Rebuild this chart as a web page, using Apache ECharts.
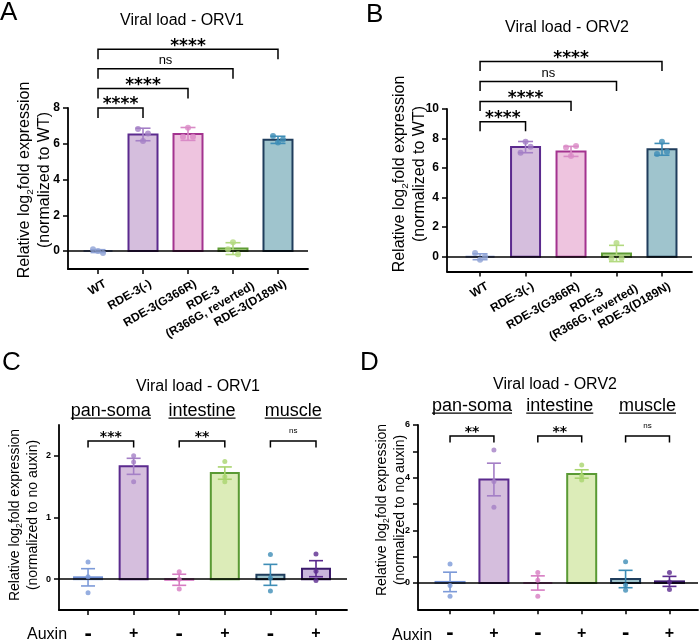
<!DOCTYPE html>
<html>
<head>
<meta charset="utf-8">
<script src="https://cdn.jsdelivr.net/npm/echarts@6/dist/echarts.min.js"></script>
<style>
  html, body { margin: 0; padding: 0; background: #fff; }
  #main { width: 700px; height: 641px; }
</style>
</head>
<body>
<div id="main"></div>
<script>
// ---- fonts ----
var FONT = '"Liberation Sans", Arial, sans-serif';
var STAR = '"DejaVu Sans", sans-serif';

// ---- A: viral load ORV1, rde-3 alleles ----
var catsA = ['WT', 'RDE-3(-)', 'RDE-3(G366R)', 'RDE-3\n(R366G, reverted)', 'RDE-3(D189N)'];
var meanA = [0.0, 6.52, 6.55, 0.14, 6.22];
var errA  = [0.08, 0.35, 0.36, 0.33, 0.2];
var ptsA  = [[0.1, -0.1, 0.0], [6.82, 6.58, 6.16], [6.39, 6.39, 6.89], [0.1, -0.18, 0.49], [6.44, 6.24, 6.07]];
var pairsA = [[0, 1], [0, 2], [0, 3], [0, 4]];
var sigA   = ['****', '****', 'ns', '****'];

// ---- B: viral load ORV2, rde-3 alleles ----
var catsB = catsA;
var meanB = [0.0, 7.42, 7.13, 0.22, 7.27];
var errB  = [0.2, 0.38, 0.34, 0.55, 0.4];
var ptsB  = [[0.25, 0.0, -0.2], [7.04, 7.45, 7.79], [7.4, 7.5, 6.82], [-0.12, -0.1, 0.93], [6.95, 7.1, 7.79]];
var pairsB = [[0, 1], [0, 2], [0, 3], [0, 4]];
var sigB   = ['****', '****', 'ns', '****'];

// ---- C: viral load ORV1, tissue-specific depletion ----
var auxin  = ['-', '+', '-', '+', '-', '+'];
var tissues = ['pan-soma', 'intestine', 'muscle'];
var meanC = [0.03, 1.83, -0.01, 1.72, 0.07, 0.17];
var errC  = [0.14, 0.13, 0.09, 0.1, 0.17, 0.13];
var ptsC  = [[0.28, 0.04, -0.22], [2.0, 1.9, 1.58], [0.12, 0.0, -0.16], [1.91, 1.66, 1.58], [0.4, 0.02, -0.19], [0.41, 0.13, -0.02]];
var pairsC = [[0, 1], [2, 3], [4, 5]];
var sigC   = ['***', '**', 'ns'];

// ---- D: viral load ORV2, tissue-specific depletion ----
var meanD = [0.04, 3.93, 0.0, 4.14, 0.15, 0.06];
var errD  = [0.37, 0.62, 0.27, 0.16, 0.33, 0.19];
var ptsD  = [[0.72, -0.1, -0.5], [5.05, 3.85, 2.88], [0.4, 0.1, -0.5], [4.48, 4.07, 3.91], [0.81, -0.08, -0.28], [0.4, 0.04, -0.25]];
var pairsD = [[0, 1], [2, 3], [4, 5]];
var sigD   = ['**', '**', 'ns'];

// ---- styles ----
var fillAB   = ['#8ea2d6', '#d5bedd', '#eec4df', '#c9e2a6', '#9fc4cd'];
var strokeAB = ['#7d95d4', '#5b2a8e', '#a3338f', '#5f9c35', '#1f3d5c'];
var dotAB    = ['#8ea2d6', '#a47fc6', '#d98ac6', '#b3da80', '#3e8db6'];
var fillCD   = ['#8ea2d6', '#d5bedd', '#eec4df', '#dcecb8', '#9fc4cd', '#c9b6dc'];
var strokeCD = ['#6f8fd4', '#5b2a8e', '#d36fbf', '#5a9a34', '#1f3d5c', '#3b1a6b'];
var dotCD    = ['#7c9ad8', '#a47fc6', '#d77cc2', '#a9d46e', '#3e8db6', '#5b2a8e'];

var measureCtx = document.createElement('canvas').getContext('2d');
function textWidth(s, font) { measureCtx.font = font; return measureCtx.measureText(s).width; }

var panels = [
  { grid: { left: 68, top: 108, width: 240, height: 161 }, xMin: -0.667, xMax: 4.667, yMin: -1, yMax: 8,
    yTicks: [0, 2, 4, 6, 8], yLabels: [0, 2, 4, 6, 8], yFont: 12,
    cats: catsA, means: meanA, errs: errA, pts: ptsA, pairs: pairsA, sigs: sigA,
    fills: fillAB, strokes: strokeAB, dots: dotAB, barW: 29, capW: 15, dot: 6, jitter: [-5, 5, 0],
    brBase: 8.0, brStep: 19.6, brDrop: 10, starSize: 17, nsSize: 13, mode: 'rot' },
  { grid: { left: 447, top: 109, width: 245, height: 162.5 }, xMin: -0.727, xMax: 4.66, yMin: -1, yMax: 10,
    yTicks: [0, 2, 4, 6, 8, 10], yLabels: [0, 2, 4, 6, 8, 10], yFont: 12,
    cats: catsB, means: meanB, errs: errB, pts: ptsB, pairs: pairsB, sigs: sigB,
    fills: fillAB, strokes: strokeAB, dots: dotAB, barW: 29, capW: 15, dot: 6, jitter: [-5, 5, 0],
    brBase: 9.14, brStep: 20.1, brDrop: 9.5, starSize: 17, nsSize: 13, mode: 'rot' },
  { grid: { left: 59, top: 425, width: 288, height: 185 }, xMin: -0.637, xMax: 5.68, yMin: -0.5, yMax: 2.5,
    yTicks: [0, 1, 2], yLabels: [0, 1, 2], yFont: 9,
    cats: auxin, means: meanC, errs: errC, pts: ptsC, pairs: pairsC, sigs: sigC, groups: tissues,
    fills: fillCD, strokes: strokeCD, dots: dotCD, barW: 28, capW: 14, dot: 5, jitter: [0, 0, 0],
    brBase: 2.24, brStep: 0, brDrop: 6.5, starSize: 14, nsSize: 8, mode: 'aux' },
  { grid: { left: 418, top: 425, width: 280, height: 184.3 }, xMin: -0.73, xMax: 5.65, yMin: -1, yMax: 6,
    yTicks: [0, 1, 2, 3, 4, 5, 6], yLabels: [0, 2, 4, 6], yFont: 9,
    cats: auxin, means: meanD, errs: errD, pts: ptsD, pairs: pairsD, sigs: sigD, groups: tissues,
    fills: fillCD, strokes: strokeCD, dots: dotCD, barW: 29, capW: 14, dot: 5, jitter: [0, 0, 0],
    brBase: 5.58, brStep: 0, brDrop: 6.5, starSize: 14, nsSize: 8, mode: 'aux' }
];

var grids = [], xAxes = [], yAxes = [], series = [];

panels.forEach(function(p, k) {
  var idx = p.cats.map(function(c, i) { return i; });
  var rot = p.mode === 'rot';
  grids.push({ left: p.grid.left, top: p.grid.top, width: p.grid.width, height: p.grid.height,
    containLabel: false, outerBoundsMode: 'none' });

  xAxes.push({
    gridIndex: k, type: 'value', min: p.xMin, max: p.xMax,
    axisLine: { onZero: false, lineStyle: { color: '#000', width: 1.8 } },
    axisTick: { customValues: idx, length: 5, lineStyle: { color: '#000', width: 1.5 } },
    axisLabel: rot ? { show: false } : {
      customValues: idx, margin: 15, color: '#000', showMinLabel: true, showMaxLabel: true,
      formatter: function(v) { var s = p.cats[Math.round(v)]; return s === '-' ? '{m|-}' : '{p|' + s + '}'; },
      rich: { m: { fontFamily: FONT, fontWeight: 'bold', fontSize: 22, lineHeight: 18, color: '#000' },
              p: { fontFamily: FONT, fontWeight: 'bold', fontSize: 16, lineHeight: 18, color: '#000' } }
    },
    splitLine: { show: false }
  });
  yAxes.push({
    gridIndex: k, type: 'value', min: p.yMin, max: p.yMax,
    axisLine: { show: true, onZero: false, lineStyle: { color: '#000', width: 1.8 } },
    axisTick: { show: true, customValues: p.yTicks, length: 5, lineStyle: { color: '#000', width: 1.5 } },
    axisLabel: { customValues: p.yLabels, margin: 8, color: '#000', fontFamily: FONT, fontWeight: 'bold', fontSize: p.yFont,
      showMinLabel: true, showMaxLabel: true },
    splitLine: { show: false }
  });

  // bars
  series.push({
    type: 'custom', xAxisIndex: k, yAxisIndex: k, z: 2,
    data: p.means.map(function(m, i) { return [i, m]; }),
    renderItem: function(params, api) {
      var i = api.value(0), m = api.value(1);
      var a = api.coord([i, 0]), b = api.coord([i, m]);
      return { type: 'rect',
        shape: { x: a[0] - p.barW / 2, y: Math.min(a[1], b[1]), width: p.barW, height: Math.abs(a[1] - b[1]) },
        style: { fill: p.fills[i], stroke: p.strokes[i], lineWidth: 2 } };
    }
  });

  // zero line
  series.push({
    type: 'line', xAxisIndex: k, yAxisIndex: k, z: 3, data: [],
    markLine: { silent: true, symbol: 'none', animation: false, label: { show: false },
      lineStyle: { color: '#000', width: 1.6, type: 'solid' }, data: [{ yAxis: 0 }] }
  });

  // error bars
  series.push({
    type: 'custom', xAxisIndex: k, yAxisIndex: k, z: 4,
    data: p.means.map(function(m, i) { return [i, m, p.errs[i]]; }),
    renderItem: function(params, api) {
      var i = api.value(0), m = api.value(1), e = api.value(2);
      var t = api.coord([i, m + e]), b = api.coord([i, m - e]), c = p.capW / 2, x = t[0];
      var st = { stroke: p.dots[i], lineWidth: 1.6 };
      return { type: 'group', children: [
        { type: 'line', shape: { x1: x, y1: t[1], x2: x, y2: b[1] }, style: st },
        { type: 'line', shape: { x1: x - c, y1: t[1], x2: x + c, y2: t[1] }, style: st },
        { type: 'line', shape: { x1: x - c, y1: b[1], x2: x + c, y2: b[1] }, style: st }
      ] };
    }
  });

  // points
  var dots = [];
  p.pts.forEach(function(arr, i) {
    arr.forEach(function(v, j) {
      dots.push({ value: [i, v], symbolOffset: [p.jitter[j], 0], itemStyle: { color: p.dots[i] } });
    });
  });
  series.push({ type: 'scatter', xAxisIndex: k, yAxisIndex: k, z: 5, symbolSize: p.dot, data: dots });

  // rotated genotype labels under the axis (multi-line label sits higher, as in the figure)
  if (rot) {
    series.push({
      type: 'custom', xAxisIndex: k, yAxisIndex: k, z: 6,
      data: idx.map(function(i) { return [i, p.yMin]; }),
      renderItem: function(params, api) {
        var i = api.value(0);
        var pt = api.coord([i, api.value(1)]);
        var lines = p.cats[i].split('\n');
        var multi = lines.length > 1;
        return { type: 'text', x: pt[0] + (multi ? 10 : 4), y: pt[1] + (multi ? -2 : 8), rotation: Math.PI / 6,
          style: { text: lines.map(function(l) { return '{c|' + l + '}'; }).join('\n'),
            textAlign: 'right', textVerticalAlign: 'top', fill: '#000',
            rich: { c: { align: 'center', fontFamily: FONT, fontWeight: 'bold', fontSize: 12, lineHeight: 14 } } } };
      }
    });
  }

  // significance brackets
  series.push({
    type: 'custom', xAxisIndex: k, yAxisIndex: k, z: 6,
    data: p.pairs.map(function(pr, j) { return [pr[0], pr[1], j]; }),
    renderItem: function(params, api) {
      var j = api.value(2);
      var y = api.coord([0, p.brBase])[1] - j * p.brStep;
      var x1 = api.coord([api.value(0), 0])[0], x2 = api.coord([api.value(1), 0])[0];
      var mid = (x1 + x2) / 2, d = p.brDrop, lab = p.sigs[j];
      var isNs = lab === 'ns';
      var kids = [
        { type: 'polyline', shape: { points: [[x1, y + d], [x1, y], [x2, y], [x2, y + d]] },
          style: { stroke: '#000', lineWidth: 1.5, fill: null } },
        { type: 'text', style: isNs ?
          { text: lab, x: mid, y: y - (rot ? 8 : 10), textAlign: 'center', textVerticalAlign: 'middle',
            font: p.nsSize + 'px ' + FONT, fill: '#000' } :
          { text: lab, x: mid, y: y - (rot ? 3 : 4), textAlign: 'center', textVerticalAlign: 'middle',
            font: 'bold ' + p.starSize + 'px ' + STAR, fill: '#000' } }
      ];
      if (p.groups) {
        var gf = '18px ' + FONT, g = p.groups[j], w = textWidth(g, gf);
        kids.push({ type: 'text', style: { text: g, x: mid, y: y - 30, textAlign: 'center', textVerticalAlign: 'middle', font: gf, fill: '#000' } });
        kids.push({ type: 'line', shape: { x1: mid - w / 2, y1: y - 23, x2: mid + w / 2, y2: y - 23 }, style: { stroke: '#000', lineWidth: 1.2 } });
      }
      return { type: 'group', children: kids };
    }
  });
});

function yName(x, y, size, line2) {
  return { type: 'text', x: x, y: y, rotation: Math.PI / 2,
    style: { text: '{n|Relative log}{s|2}{n|fold expression}\n{n|' + line2 + '}',
      textAlign: 'center', textVerticalAlign: 'middle', fill: '#000',
      rich: { n: { fontSize: size, fontFamily: FONT, lineHeight: size + 4 },
              s: { fontSize: size * 0.62, fontFamily: FONT, lineHeight: size + 4, verticalAlign: 'bottom' } } } };
}
function label(text, x, y, font, align) {
  return { type: 'text', x: x, y: y, style: { text: text, textAlign: align || 'center', textVerticalAlign: 'middle', font: font, fill: '#000' } };
}

var option = {
  animation: false,
  backgroundColor: '#fff',
  grid: grids, xAxis: xAxes, yAxis: yAxes, series: series,
  graphic: [
    label('A', 0, 13, '26px ' + FONT, 'left'),
    label('B', 366, 15, '26px ' + FONT, 'left'),
    label('C', 2, 363, '26px ' + FONT, 'left'),
    label('D', 360, 363, '26px ' + FONT, 'left'),
    label('Viral load - ORV1', 182, 21, '16px ' + FONT),
    label('Viral load - ORV2', 567, 28, '16px ' + FONT),
    label('Viral load - ORV1', 198, 387, '16px ' + FONT),
    label('Viral load - ORV2', 555, 385, '16px ' + FONT),
    label('Auxin', 27, 635, '16px ' + FONT, 'left'),
    label('Auxin', 392, 636, '16px ' + FONT, 'left'),
    yName(35, 180, 16, '(normalized to WT)'),
    yName(410, 174, 16, '(normalized to WT)'),
    yName(24, 515, 14, '(normalized to no auxin)'),
    yName(391, 510, 14, '(normalized to no auxin)')
  ]
};

var chart = echarts.init(document.getElementById('main'));
chart.setOption(option);
</script>
</body>
</html>
